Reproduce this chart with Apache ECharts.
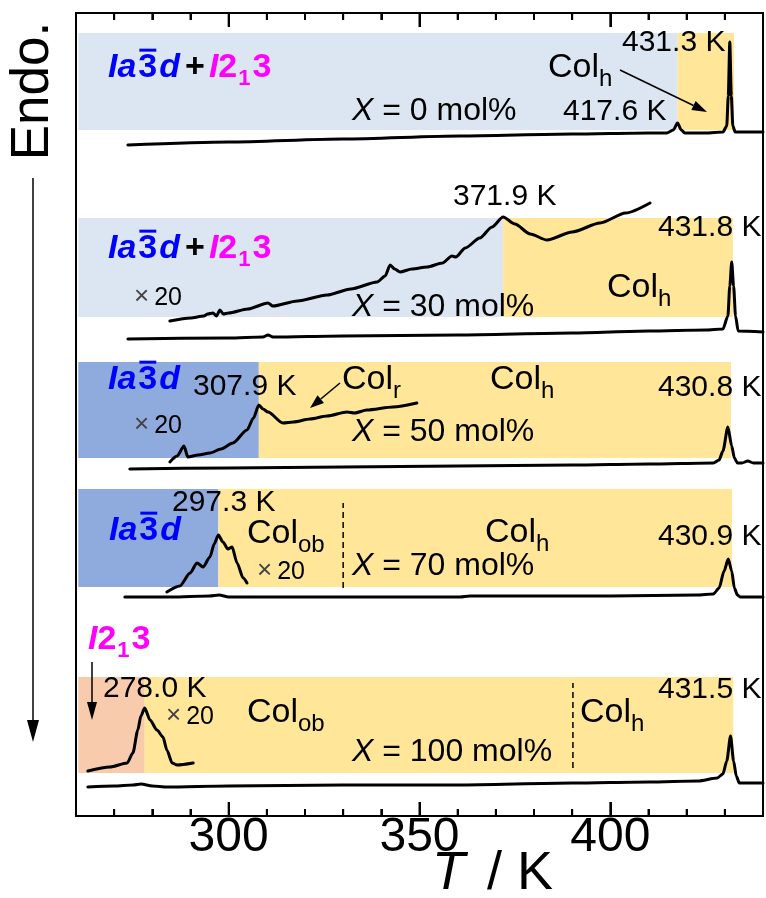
<!DOCTYPE html>
<html><head><meta charset="utf-8">
<script src="https://cdn.jsdelivr.net/npm/echarts@6/dist/echarts.min.js"></script>
<style>html,body{margin:0;padding:0;background:#fff}#c{width:766px;height:898px}</style>
</head><body><div id="c"></div>
<script>
// ================= DATA (temperature T / K, heat flow in arbitrary offset units) =================
const xMin = 260, xMax = 440;
const yMin = 0, yMax = 803;
const majorTicks = [300, 350, 400];
const minorTicks = [270, 280, 290, 310, 320, 330, 340, 360, 370, 380, 390, 410, 420, 430];

// X = 0 mol%
const T_x0 = [273.6, 300, 330, 360.6, 390, 410, 414.8, 416.5, 417.6, 418.6, 419.5, 425, 429.5, 430.5, 430.9, 431.3, 431.7, 432.1, 432.7, 436, 440];
const H_x0 = [671, 674, 677, 680, 682, 683, 683, 686, 693, 686, 683, 683, 684, 690, 720, 774, 720, 690, 684, 684, 684];

// X = 30 mol%
const T_x30 = [273.6, 300, 309, 310.3, 311.6, 330, 360, 390, 410, 425, 429.5, 430.8, 431.3, 431.8, 432.3, 432.8, 433.5, 440];
const H_x30 = [477, 478, 479, 481, 479, 480, 481, 483, 485, 486, 487, 500, 530, 554, 530, 500, 485, 484];
const T_x30m = [284.6, 290, 293.5, 294.5, 295.9, 296.8, 297.7, 298.6, 300, 305, 310.3, 311.6, 318, 325.8, 332, 338.9, 341, 342.3, 343.5, 344.9, 348, 352, 356, 358.5, 359.5, 362, 365.8, 369, 371.9, 375, 379, 383.4, 390, 397.3, 404, 410.4];
const H_x30m = [495, 498, 500, 502, 503, 500, 506, 502, 503, 507, 513, 510, 515, 521, 527, 534, 540, 551, 547, 544, 547, 549, 553, 560, 559, 568, 578, 589, 599, 592, 582, 576, 584, 593, 603, 613];

// X = 50 mol%
const T_x50 = [274.1, 300, 330, 360, 390, 410, 427, 428.5, 429.5, 430.8, 431.8, 432.5, 433.3, 434.5, 436, 437.5, 440];
const H_x50 = [347, 348, 349, 350, 351, 352, 353, 356, 365, 389, 370, 358, 353, 353, 355, 353, 353];
const T_x50m = [284.6, 286.5, 288.3, 289.3, 292, 295.1, 298, 301.1, 304.8, 306.5, 307.9, 309, 310.3, 314.2, 317, 321.3, 325.8, 331, 333, 336.2, 343.1, 349.3];
const H_x50m = [354, 360, 370, 359, 361, 363, 367, 373, 386, 398, 411, 407, 404, 393, 394, 397, 400, 404, 403, 406, 409, 413];

// X = 70 mol%
const T_x70 = [272.8, 285, 295, 297.5, 300, 330, 360.6, 363.2, 400, 422.7, 427, 428.5, 429.8, 430.9, 431.8, 432.5, 433.3, 434, 440];
const H_x70 = [219, 219, 220, 221, 219, 219, 219, 220, 220, 221, 222, 228, 245, 257, 245, 228, 221, 219, 219];
const T_x70m = [283.8, 287.2, 289.9, 291.7, 293.3, 295.1, 296.2, 297.3, 298.5, 299.8, 300.9, 302.2, 303.8, 304.8];
const H_x70m = [224, 230, 243, 253, 249, 259, 272, 281, 274, 267, 269, 253, 238, 233];

// X = 100 mol%
const T_x100 = [263.1, 270, 275, 277, 280, 283.8, 300, 330, 360, 390, 410, 423, 428, 429.5, 430.5, 431.5, 432.3, 433, 433.8, 440];
const H_x100 = [29, 30, 31, 32, 30, 29, 30, 31, 31, 33, 34, 35, 38, 42, 55, 80, 55, 40, 33, 33];
const T_x100m = [263.1, 268.9, 273.4, 274.9, 276.2, 277, 278.0, 279.4, 281.2, 282.8, 283.8, 285.2, 286.5, 290.7];
const H_x100m = [45, 49, 53, 63, 86, 100, 108, 96, 86, 79, 66, 53, 51, 53];

// phase bands per composition: low-T phase, transition temperatures, vertical extent
const bandLowPhase = ['mix', 'mix', 'Ia3d', 'Ia3d', 'I213'];
const bandStartT  = [260.6, 260.6, 260.6, 260.6, 260.6];
const bandTransT  = [417.6, 371.9, 307.9, 297.3, 278.0];
const bandEndT    = [432.4, 432.1, 431.6, 431.9, 432.2];
const bandLow     = [686, 499, 358, 229, 43];
const bandHigh    = [783, 598, 454, 327, 139];
// Col_ob / Col_h boundaries (dashed) for X = 70 and 100 mol%
const dashT   = [330.0, 390.2];
const dashLow = [228, 48];
const dashHigh= [313, 133];

// ================= CHART =================
const FONT = "'Liberation Sans', Arial, Helvetica, sans-serif";
const phaseColor = { mix: '#DCE6F2', Ia3d: '#8FAADC', I213: '#F8CBAD', Col: '#FFE699' };
const zip = (a, b) => a.map((v, i) => [v, b[i]]);

const chart = echarts.init(document.getElementById('c'), null, { renderer: 'canvas' });

const bandData = [];
for (let i = 0; i < bandTransT.length; i++) {
  bandData.push([{ xAxis: bandStartT[i], yAxis: bandLow[i], itemStyle: { color: phaseColor[bandLowPhase[i]], opacity: 1 } }, { xAxis: bandTransT[i], yAxis: bandHigh[i] }]);
  bandData.push([{ xAxis: bandTransT[i], yAxis: bandLow[i], itemStyle: { color: phaseColor.Col, opacity: 1 } }, { xAxis: bandEndT[i], yAxis: bandHigh[i] }]);
}

const tickLenMinor = 7, tickLenMajor = 14;
const traceStyle = { color: '#000', width: 3, join: 'round', cap: 'round' };
const traces = [[T_x0, H_x0], [T_x30, H_x30], [T_x30m, H_x30m], [T_x50, H_x50], [T_x50m, H_x50m], [T_x70, H_x70], [T_x70m, H_x70m], [T_x100, H_x100], [T_x100m, H_x100m]];

const series = [{
  type: 'line', z: 1, data: [[xMin, yMin]], symbol: 'none', lineStyle: { width: 0 }, silent: true,
  markArea: { silent: true, data: bandData }
}];
dashT.forEach((t, i) => series.push({
  type: 'line', z: 2, symbol: 'none', silent: true, data: [[t, dashLow[i]], [t, dashHigh[i]]],
  lineStyle: { color: '#000', width: 1.5, type: [6, 4] }
}));
traces.forEach(tr => series.push({
  type: 'line', z: 3, symbol: 'none', silent: true, smooth: 0.25, smoothMonotone: 'x',
  data: zip(tr[0], tr[1]), lineStyle: traceStyle
}));

function xAx(pos, major) {
  return {
    type: 'value', min: xMin, max: xMax, position: pos, interval: 10, z: 10,
    axisLine: { show: true, onZero: false, lineStyle: { color: '#000', width: 2 } }, splitLine: { show: false },
    axisTick: major ? { show: true, inside: true, length: tickLenMajor, customValues: majorTicks, lineStyle: { color: '#000', width: 2 } }
                    : { show: true, inside: true, length: tickLenMinor, lineStyle: { color: '#000', width: 2 } },
    axisLabel: (major && pos === 'bottom') ? { show: true, customValues: majorTicks, fontSize: 48, fontFamily: FONT, color: '#000', margin: -2 } : { show: false }
  };
}
function yAx(pos) {
  return { type: 'value', min: yMin, max: yMax, position: pos, axisLine: { show: true, onZero: false, lineStyle: { color: '#000', width: 2 } }, axisTick: { show: false }, axisLabel: { show: false }, splitLine: { show: false } };
}

chart.setOption({
  animation: false,
  backgroundColor: '#fff',
  grid: { left: 76, right: 3, top: 13, bottom: 82, containLabel: false },
  xAxis: [xAx('bottom', false), xAx('bottom', true), xAx('top', false), xAx('top', true)],
  yAxis: [yAx('left'), yAx('right')],
  series: series
});

// ---------- annotation helpers (pixel layout of labels) ----------
const mctx = document.createElement('canvas').getContext('2d');
const fontStr = p => (p.i ? 'italic ' : '') + (p.b ? 'bold ' : '') + p.s + 'px ' + FONT;
const g = [];
function rich(x, base, parts, def) {
  let cx = x;
  parts.forEach(p0 => {
    const p = Object.assign({}, def || {}, p0);
    cx += p.gap || 0;
    const f = fontStr(p);
    mctx.font = f;
    const w = mctx.measureText(p.t).width;
    const by = base + (p.dy || 0);
    g.push({ type: 'text', z: 50, silent: true, style: { text: p.t, x: cx, y: by - 0.35 * p.s, font: f, fill: p.c || '#000', align: 'left', verticalAlign: 'middle' } });
    if (p.over) g.push({ type: 'rect', z: 50, silent: true, shape: { x: cx + 1, y: by - 0.716 * p.s - 7, width: w - 2, height: 3 }, style: { fill: p.c } });
    cx += w;
  });
}
function arrow(x1, y1, x2, y2, hl, hw, lw) {
  const a = Math.atan2(y2 - y1, x2 - x1), c = Math.cos(a), s = Math.sin(a);
  const bx = x2 - hl * c, by = y2 - hl * s;
  g.push({ type: 'line', z: 50, silent: true, shape: { x1, y1, x2: bx, y2: by }, style: { stroke: '#000', lineWidth: lw || 1.5 } });
  g.push({ type: 'polygon', z: 50, silent: true, shape: { points: [[x2, y2], [bx - hw / 2 * s, by + hw / 2 * c], [bx + hw / 2 * s, by - hw / 2 * c]] }, style: { fill: '#000' } });
}

// inward frame ticks, positioned through the x/y axis scales
function frameTick(t, len) {
  const cs = { xAxisIndex: 0, yAxisIndex: 0 };
  const b0 = chart.convertToPixel(cs, [t, yMin]), b1 = chart.convertToPixel(cs, [t, yMin + len]);
  const t0 = chart.convertToPixel(cs, [t, yMax]), t1 = chart.convertToPixel(cs, [t, yMax - len]);
  [[b0, b1], [t0, t1]].forEach(pr => {
    if (pr[0] && pr[1]) g.push({ type: 'line', z: 40, silent: true, shape: { x1: pr[0][0], y1: pr[0][1], x2: pr[1][0], y2: pr[1][1] }, style: { stroke: '#000', lineWidth: 2 } });
  });
}
minorTicks.forEach(t => frameTick(t, tickLenMinor));
majorTicks.forEach(t => frameTick(t, tickLenMajor));

const BLUE = '#0000FF', MAG = '#FF00FF';
const ph = { s: 34, b: true };
const Ia3d = [{ t: 'I', i: true, c: BLUE }, { t: 'a', i: true, c: BLUE }, { t: '3', c: BLUE, over: true, gap: 2 }, { t: 'd', i: true, c: BLUE, gap: 2 }];
const I213 = [{ t: 'I', i: true, c: MAG }, { t: '2', c: MAG }, { t: '1', c: MAG, s: 22, dy: 7, gap: 1 }, { t: '3', c: MAG, gap: 2 }];
const mix = Ia3d.concat([{ t: '+', c: '#000', gap: 5 }], [Object.assign({}, I213[0], { gap: 4 })], I213.slice(1));
const n = { s: 30 };
const colh = (x, b) => rich(x, b, [{ t: 'Col' }, { t: 'h', s: 24, dy: 8 }], { s: 34 });
const colob = (x, b) => rich(x, b, [{ t: 'Col' }, { t: 'ob', s: 24, dy: 8 }], { s: 34 });
const times20 = (x, b) => rich(x, b, [{ t: '×', c: '#444', s: 26, dy: -1 }, { t: '20', gap: 5 }], { s: 25 });
const Xmol = (x, b, v) => rich(x, b, [{ t: 'X', i: true }, { t: ' = ' + v + ' mol%' }], { s: 32 });

// X = 0
rich(108, 80, mix, ph);
Xmol(352, 122, '0');
rich(563, 122, [{ t: '417.6 K' }], n);
rich(622, 53, [{ t: '431.3 K' }], n);
colh(548, 80);
arrow(620, 70, 707, 112, 15, 10);
// X = 30
rich(108, 261, mix, ph);
times20(134, 307);
Xmol(352, 318, '30');
rich(453, 207, [{ t: '371.9 K' }], n);
rich(658, 238, [{ t: '431.8 K' }], n);
colh(607, 300);
// X = 50
rich(108, 392, Ia3d, ph);
rich(193, 397, [{ t: '307.9 K' }], n);
rich(342, 392, [{ t: 'Col' }, { t: 'r', s: 24, dy: 8 }], { s: 34 });
arrow(340, 383, 310, 408, 14, 10);
times20(134, 435);
Xmol(352, 443, '50');
colh(490, 392);
rich(658, 398, [{ t: '430.8 K' }], n);
// X = 70
rich(109, 543, Ia3d, ph);
rich(172, 513, [{ t: '297.3 K' }], n);
colob(247, 546);
times20(257, 581);
Xmol(352, 577, '70');
colh(485, 545);
rich(658, 547, [{ t: '430.9 K' }], n);
// X = 100
rich(88, 652, I213, ph);
arrow(92, 662, 92, 720, 18, 10);
rich(103, 699, [{ t: '278.0 K' }], n);
times20(166, 726);
colob(247, 725);
Xmol(352, 763, '100');
colh(580, 725);
rich(658, 700, [{ t: '431.5 K' }], n);
// axis title and Endo.
rich(432, 893, [{ t: 'T', i: true }, { t: '/', gap: 22 }, { t: 'K', gap: 15 }], { s: 54 });
g.push({ type: 'text', z: 50, silent: true, x: 33, y: 91, rotation: Math.PI / 2, style: { text: 'Endo.', font: '53px ' + FONT, fill: '#000', align: 'center', verticalAlign: 'middle' } });
arrow(33, 178, 33, 742, 22, 12, 1.5);

chart.setOption({ graphic: g });
</script>
</body></html>
